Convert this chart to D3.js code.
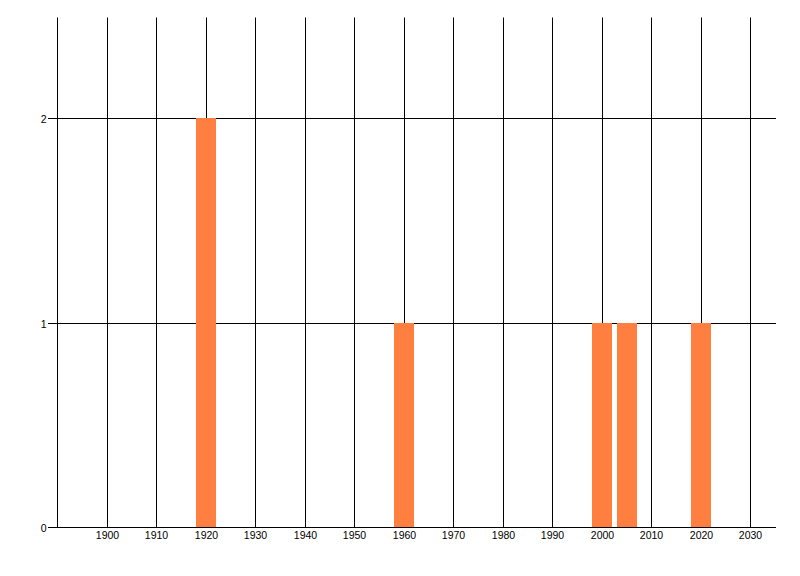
<!DOCTYPE html>
<html><head><meta charset="utf-8">
<script src="https://cdn.jsdelivr.net/npm/d3@7"></script>
<style>body{margin:0;background:#fff}svg{display:block}</style>
</head><body>
<svg id="c" width="800" height="576"></svg>
<script>
const years = [1920, 1960, 2000, 2005, 2020];
const counts = [2, 1, 1, 1, 1];
const xTicks = [1900, 1910, 1920, 1930, 1940, 1950, 1960, 1970, 1980, 1990, 2000, 2010, 2020, 2030];
const yTicks = [0, 1, 2];

(function () {
const svg = d3.select("#c");
const pL = 57, pR = 776, pT = 17.5, pB = 527.5;
const x = d3.scaleLinear().domain([1890, 2035.2]).range([pL, pR]);
const y = d3.scaleLinear().domain([0, 2.5]).range([pB, pT]);
const barW = 4;

// vertical grid
svg.append("g").selectAll("line").data(xTicks).join("line")
  .attr("x1", d => Math.round(x(d)) + 0.5).attr("x2", d => Math.round(x(d)) + 0.5)
  .attr("y1", pT).attr("y2", pB)
  .attr("stroke", "#000").attr("stroke-width", 1);

// horizontal grid (with ticks extending left)
svg.append("g").selectAll("line").data(yTicks.filter(d => d > 0)).join("line")
  .attr("x1", pL - 9).attr("x2", pR)
  .attr("y1", d => Math.round(y(d)) - 0.5).attr("y2", d => Math.round(y(d)) - 0.5)
  .attr("stroke", "#000");

// bars (drawn over grid)
svg.append("g").selectAll("rect").data(years).join("rect")
  .attr("x", (d) => Math.round(x(d - barW / 2)))
  .attr("width", (d) => Math.round(x(d + barW / 2) - x(d - barW / 2)))
  .attr("y", (d, i) => Math.round(y(counts[i])) - 1)
  .attr("height", (d, i) => Math.round(y(0)) - Math.round(y(counts[i])))
  .attr("fill", "#ff7f40");

// x axis line
svg.append("line").attr("x1", pL - 9).attr("x2", pR)
  .attr("y1", pB).attr("y2", pB).attr("stroke", "#000");
// y axis line
svg.append("line").attr("x1", pL + 0.5).attr("x2", pL + 0.5)
  .attr("y1", pT).attr("y2", pB).attr("stroke", "#000");

// labels
const font = "Liberation Sans, Arial, sans-serif";
svg.append("g").selectAll("text").data(xTicks).join("text")
  .attr("x", d => Math.round(x(d)) + 0.5).attr("y", 539)
  .attr("text-anchor", "middle").attr("font-family", font).attr("font-size", 10.5)
  .attr("fill", "#000").text(d => d);
svg.append("g").selectAll("text").data(yTicks).join("text")
  .attr("x", 46.5).attr("y", d => Math.round(y(d)) + 3.5)
  .attr("text-anchor", "end").attr("font-family", font).attr("font-size", 10.5)
  .attr("fill", "#000").text(d => d);
})();
</script>
</body></html>
